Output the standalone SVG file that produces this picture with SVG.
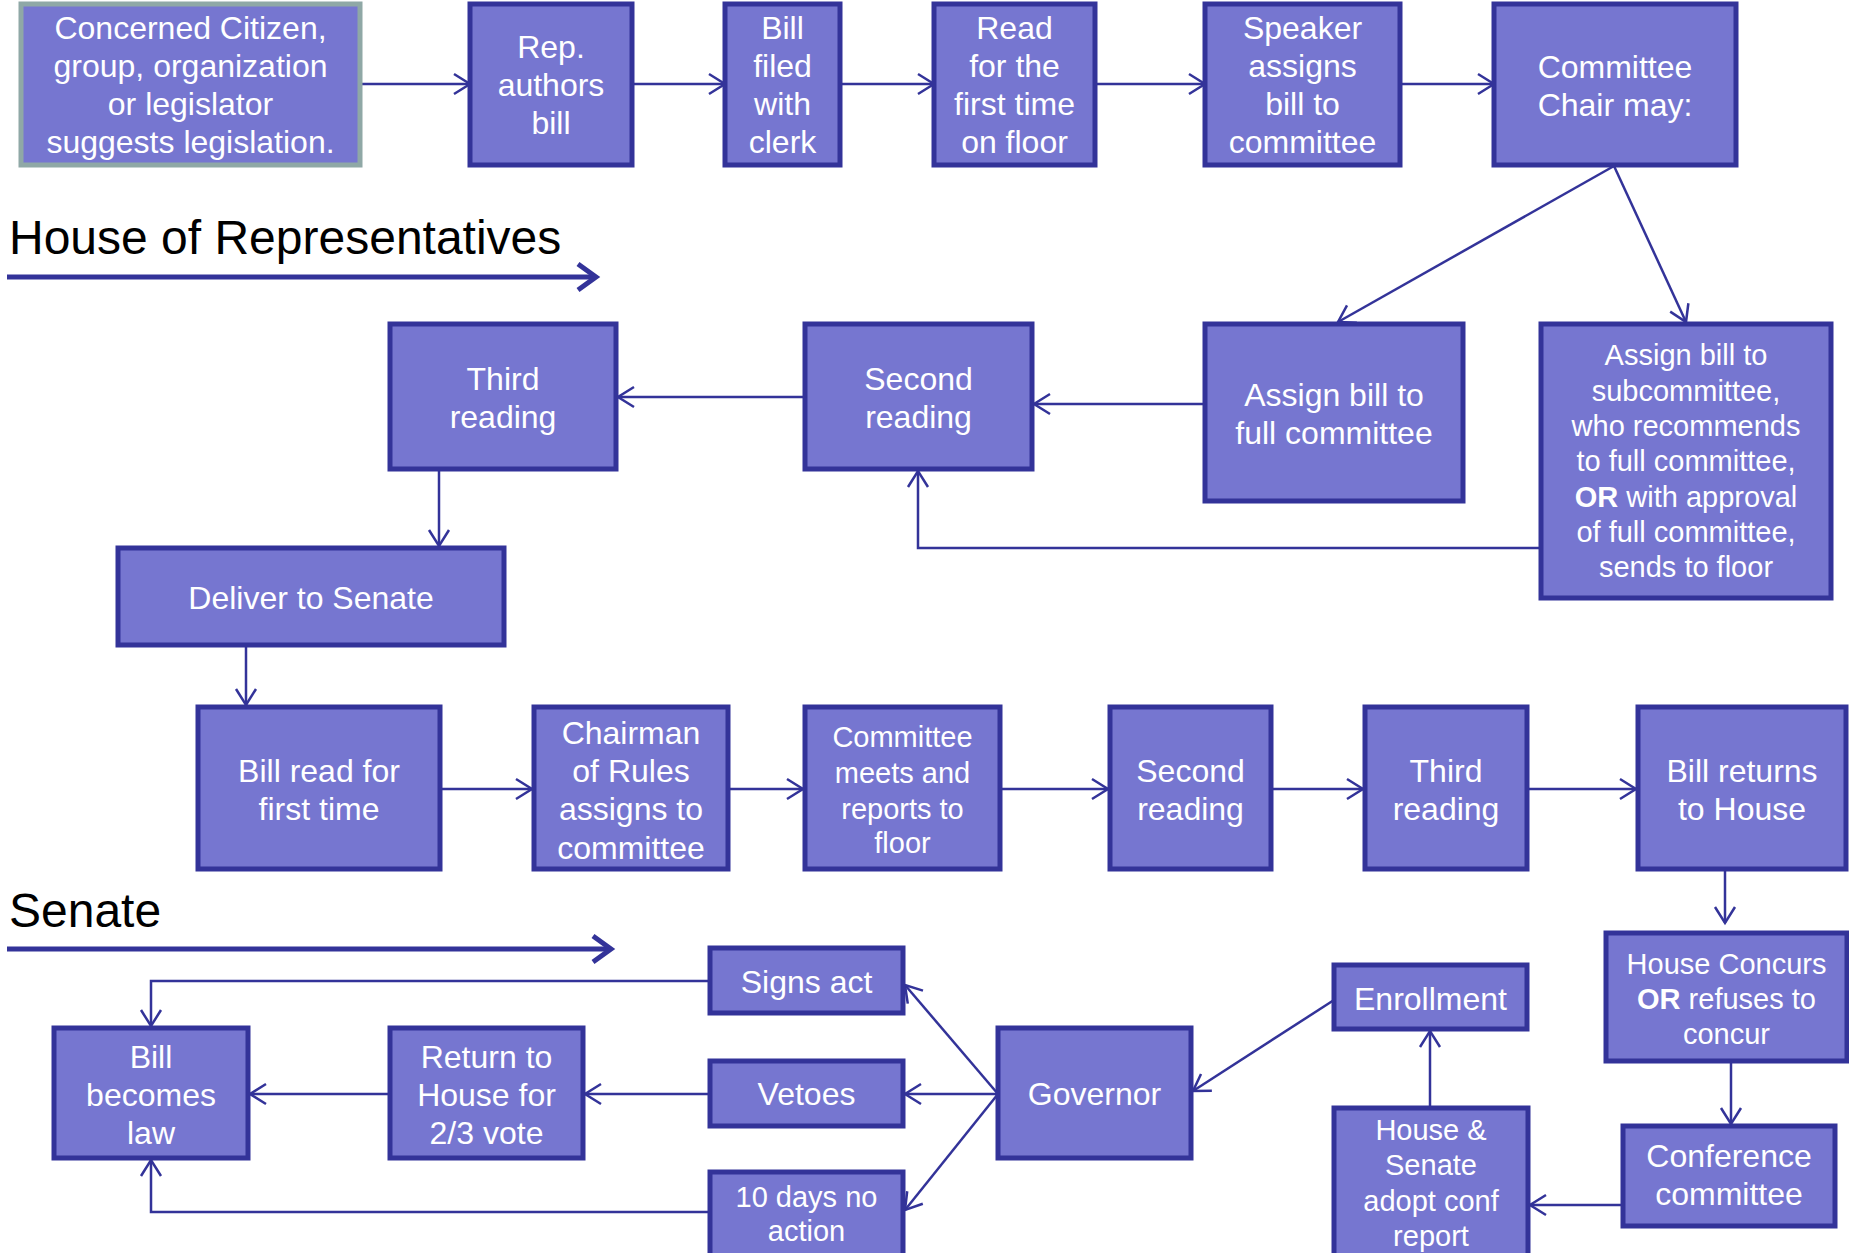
<svg xmlns="http://www.w3.org/2000/svg" width="1849" height="1253" viewBox="0 0 1849 1253">
<style>
.box{fill:#7676D0;stroke:#333399;stroke-width:5}
.boxa{fill:#7676D0;stroke:#8FA8A6;stroke-width:5}
.t{fill:#ffffff;font-family:"Liberation Sans",Arial,sans-serif;font-size:32px;text-anchor:middle}
.s{font-size:29px}
.h{fill:#000000;font-family:"Liberation Sans",Arial,sans-serif;font-size:48px}
.c{fill:none;stroke:#333399;stroke-width:2.5}
.big{fill:none;stroke:#333399;stroke-width:5}
</style>
<defs>
<marker id="ah" viewBox="-20 -12 24 24" refX="0" refY="0" markerWidth="24" markerHeight="24" markerUnits="userSpaceOnUse" orient="auto">
<path d="M-16,-10 L0,0 L-16,10" fill="none" stroke="#333399" stroke-width="2.5"/>
</marker>
<marker id="bh" viewBox="-26 -18 32 36" refX="0" refY="0" markerWidth="32" markerHeight="36" markerUnits="userSpaceOnUse" orient="auto">
<path d="M-18,-13 L0,0 L-18,13" fill="none" stroke="#333399" stroke-width="5"/>
</marker>
</defs>

<g id="labels">
<text class="h" x="9" y="254">House of Representatives</text>
<line class="big" x1="7" y1="277" x2="596" y2="277" marker-end="url(#bh)"/>
<text class="h" x="9" y="927">Senate</text>
<line class="big" x1="7" y1="949" x2="611" y2="949" marker-end="url(#bh)"/>
</g>

<g id="connectors">
<line class="c" x1="360" y1="84" x2="470" y2="84" marker-end="url(#ah)"/>
<line class="c" x1="632" y1="84" x2="725" y2="84" marker-end="url(#ah)"/>
<line class="c" x1="840" y1="84" x2="934" y2="84" marker-end="url(#ah)"/>
<line class="c" x1="1095" y1="84" x2="1205" y2="84" marker-end="url(#ah)"/>
<line class="c" x1="1367" y1="84" x2="1494" y2="84" marker-end="url(#ah)"/>
<line class="c" x1="1614" y1="166" x2="1338" y2="322" marker-end="url(#ah)"/>
<line class="c" x1="1614" y1="166" x2="1686" y2="322" marker-end="url(#ah)"/>
<line class="c" x1="1205" y1="404" x2="1034" y2="404" marker-end="url(#ah)"/>
<line class="c" x1="805" y1="397" x2="618" y2="397" marker-end="url(#ah)"/>
<polyline class="c" points="1541,548 918,548 918,471" marker-end="url(#ah)"/>
<line class="c" x1="439" y1="469" x2="439" y2="546" marker-end="url(#ah)"/>
<line class="c" x1="246" y1="645" x2="246" y2="705" marker-end="url(#ah)"/>
<line class="c" x1="440" y1="789" x2="532" y2="789" marker-end="url(#ah)"/>
<line class="c" x1="728" y1="789" x2="803" y2="789" marker-end="url(#ah)"/>
<line class="c" x1="1000" y1="789" x2="1108" y2="789" marker-end="url(#ah)"/>
<line class="c" x1="1271" y1="789" x2="1363" y2="789" marker-end="url(#ah)"/>
<line class="c" x1="1527" y1="789" x2="1636" y2="789" marker-end="url(#ah)"/>
<line class="c" x1="1725" y1="863" x2="1725" y2="923" marker-end="url(#ah)"/>
<line class="c" x1="1731" y1="1061" x2="1731" y2="1124" marker-end="url(#ah)"/>
<line class="c" x1="1623" y1="1205" x2="1530" y2="1205" marker-end="url(#ah)"/>
<line class="c" x1="1430" y1="1108" x2="1430" y2="1031" marker-end="url(#ah)"/>
<line class="c" x1="1334" y1="1000" x2="1193" y2="1091" marker-end="url(#ah)"/>
<line class="c" x1="998" y1="1094" x2="905" y2="985" marker-end="url(#ah)"/>
<line class="c" x1="998" y1="1094" x2="905" y2="1094" marker-end="url(#ah)"/>
<line class="c" x1="998" y1="1094" x2="905" y2="1210" marker-end="url(#ah)"/>
<line class="c" x1="710" y1="1094" x2="585" y2="1094" marker-end="url(#ah)"/>
<line class="c" x1="390" y1="1094" x2="250" y2="1094" marker-end="url(#ah)"/>
<polyline class="c" points="710,981 151,981 151,1026" marker-end="url(#ah)"/>
<polyline class="c" points="710,1212 151,1212 151,1160" marker-end="url(#ah)"/>
</g>

<g id="n-citizen"><rect class="boxa" x="21" y="4" width="339" height="161"/>
<text class="t"><tspan x="190.5" y="39">Concerned Citizen,</tspan><tspan x="190.5" y="77">group, organization</tspan><tspan x="190.5" y="115">or legislator</tspan><tspan x="190.5" y="153">suggests legislation.</tspan></text></g>

<g id="n-rep"><rect class="box" x="470" y="4" width="162" height="161"/>
<text class="t"><tspan x="551" y="58">Rep.</tspan><tspan x="551" y="96">authors</tspan><tspan x="551" y="134">bill</tspan></text></g>

<g id="n-filed"><rect class="box" x="725" y="4" width="115" height="161"/>
<text class="t"><tspan x="782.5" y="39">Bill</tspan><tspan x="782.5" y="77">filed</tspan><tspan x="782.5" y="115">with</tspan><tspan x="782.5" y="153">clerk</tspan></text></g>

<g id="n-read1"><rect class="box" x="934" y="4" width="161" height="161"/>
<text class="t"><tspan x="1014.5" y="39">Read</tspan><tspan x="1014.5" y="77">for the</tspan><tspan x="1014.5" y="115">first time</tspan><tspan x="1014.5" y="153">on floor</tspan></text></g>

<g id="n-speaker"><rect class="box" x="1205" y="4" width="195" height="161"/>
<text class="t"><tspan x="1302.5" y="39">Speaker</tspan><tspan x="1302.5" y="77">assigns</tspan><tspan x="1302.5" y="115">bill to</tspan><tspan x="1302.5" y="153">committee</tspan></text></g>

<g id="n-chair"><rect class="box" x="1494" y="4" width="242" height="161"/>
<text class="t"><tspan x="1615" y="78">Committee</tspan><tspan x="1615" y="116">Chair may:</tspan></text></g>

<g id="n-third-h"><rect class="box" x="390" y="324" width="226" height="145"/>
<text class="t"><tspan x="503" y="390">Third</tspan><tspan x="503" y="428">reading</tspan></text></g>

<g id="n-second-h"><rect class="box" x="805" y="324" width="227" height="145"/>
<text class="t"><tspan x="918.5" y="390">Second</tspan><tspan x="918.5" y="428">reading</tspan></text></g>

<g id="n-full"><rect class="box" x="1205" y="324" width="258" height="177"/>
<text class="t"><tspan x="1334" y="406">Assign bill to</tspan><tspan x="1334" y="444">full committee</tspan></text></g>

<g id="n-sub"><rect class="box" x="1541" y="324" width="290" height="274"/>
<text class="t s"><tspan x="1686" y="365">Assign bill to</tspan><tspan x="1686" y="400.5">subcommittee,</tspan><tspan x="1686" y="436">who recommends</tspan><tspan x="1686" y="471">to full committee,</tspan><tspan x="1686" y="506.5"><tspan font-weight="bold">OR</tspan> with approval</tspan><tspan x="1686" y="542">of full committee,</tspan><tspan x="1686" y="577">sends to floor</tspan></text></g>

<g id="n-deliver"><rect class="box" x="118" y="548" width="386" height="97"/>
<text class="t"><tspan x="311" y="609">Deliver to Senate</tspan></text></g>

<g id="n-read-s"><rect class="box" x="198" y="707" width="242" height="162"/>
<text class="t"><tspan x="319" y="782">Bill read for</tspan><tspan x="319" y="820">first time</tspan></text></g>

<g id="n-rules"><rect class="box" x="534" y="707" width="194" height="162"/>
<text class="t"><tspan x="631" y="743.5">Chairman</tspan><tspan x="631" y="782">of Rules</tspan><tspan x="631" y="820">assigns to</tspan><tspan x="631" y="859">committee</tspan></text></g>

<g id="n-meets"><rect class="box" x="805" y="707" width="195" height="162"/>
<text class="t s"><tspan x="902.5" y="747">Committee</tspan><tspan x="902.5" y="782.5">meets and</tspan><tspan x="902.5" y="819">reports to</tspan><tspan x="902.5" y="853">floor</tspan></text></g>

<g id="n-second-s"><rect class="box" x="1110" y="707" width="161" height="162"/>
<text class="t"><tspan x="1190.5" y="782">Second</tspan><tspan x="1190.5" y="820">reading</tspan></text></g>

<g id="n-third-s"><rect class="box" x="1365" y="707" width="162" height="162"/>
<text class="t"><tspan x="1446" y="782">Third</tspan><tspan x="1446" y="820">reading</tspan></text></g>

<g id="n-returns"><rect class="box" x="1638" y="707" width="208" height="162"/>
<text class="t"><tspan x="1742" y="782">Bill returns</tspan><tspan x="1742" y="820">to House</tspan></text></g>

<g id="n-concurs"><rect class="box" x="1606" y="933" width="241" height="128"/>
<text class="t s"><tspan x="1726.5" y="973.5">House Concurs</tspan><tspan x="1726.5" y="1009"><tspan font-weight="bold">OR</tspan> refuses to</tspan><tspan x="1726.5" y="1044">concur</tspan></text></g>

<g id="n-conference"><rect class="box" x="1623" y="1126" width="212" height="100"/>
<text class="t"><tspan x="1729" y="1167">Conference</tspan><tspan x="1729" y="1204.5">committee</tspan></text></g>

<g id="n-adopt"><rect class="box" x="1334" y="1108" width="194" height="152"/>
<text class="t s"><tspan x="1431" y="1140">House &amp;</tspan><tspan x="1431" y="1175">Senate</tspan><tspan x="1431" y="1210.5">adopt conf</tspan><tspan x="1431" y="1246">report</tspan></text></g>

<g id="n-enroll"><rect class="box" x="1334" y="965" width="193" height="64"/>
<text class="t"><tspan x="1430.5" y="1010">Enrollment</tspan></text></g>

<g id="n-governor"><rect class="box" x="998" y="1028" width="193" height="130"/>
<text class="t"><tspan x="1094.5" y="1105">Governor</tspan></text></g>

<g id="n-signs"><rect class="box" x="710" y="948" width="193" height="65"/>
<text class="t"><tspan x="806.5" y="993">Signs act</tspan></text></g>

<g id="n-vetoes"><rect class="box" x="710" y="1061" width="193" height="65"/>
<text class="t"><tspan x="806.5" y="1105">Vetoes</tspan></text></g>

<g id="n-10days"><rect class="box" x="710" y="1172" width="193" height="88"/>
<text class="t s"><tspan x="806.5" y="1207">10 days no</tspan><tspan x="806.5" y="1241">action</tspan></text></g>

<g id="n-return"><rect class="box" x="390" y="1028" width="193" height="130"/>
<text class="t"><tspan x="486.5" y="1068">Return to</tspan><tspan x="486.5" y="1105.5">House for</tspan><tspan x="486.5" y="1144">2/3 vote</tspan></text></g>

<g id="n-law"><rect class="box" x="54" y="1028" width="194" height="130"/>
<text class="t"><tspan x="151" y="1068">Bill</tspan><tspan x="151" y="1105.5">becomes</tspan><tspan x="151" y="1144">law</tspan></text></g>
</svg>
